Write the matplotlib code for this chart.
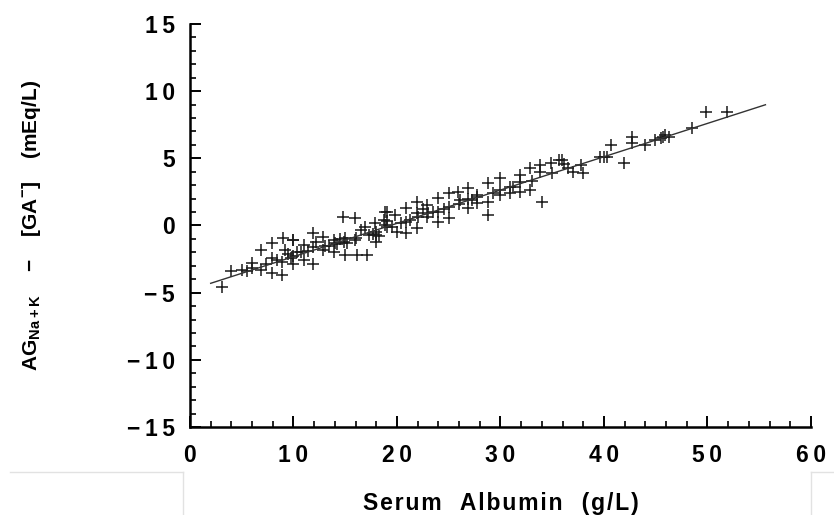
import matplotlib
matplotlib.use("Agg")
import matplotlib.pyplot as plt
from matplotlib.lines import Line2D
from matplotlib.ticker import MultipleLocator, FuncFormatter
import numpy as np

# serum albumin (g/L) and AG(Na+K) - [GA-] (mEq/L)
albumin = [3.1, 4.0, 5.0, 6.0, 6.0, 6.9, 6.9, 7.9, 7.9, 7.9, 8.9, 9.0, 9.2, 8.9,
           10.0, 9.8, 10.3, 10.0, 10.0, 10.0, 11.0, 11.0, 11.9, 11.9, 11.9,
           12.9, 12.9, 13.9, 13.9, 14.8, 15.0, 14.9, 15.0, 15.9, 15.9, 16.1,
           16.9, 17.1, 17.9, 18.0, 18.0, 18.0, 18.8, 18.8, 19.0, 18.7, 19.0,
           19.0, 19.8, 20.0, 20.9, 20.9, 20.9, 21.9, 21.9, 21.9, 22.9, 22.9,
           24.0, 24.0, 24.0, 25.0, 25.0, 25.0, 25.9, 26.1, 26.9, 26.9, 26.9,
           27.7, 27.7, 27.7, 28.8, 28.8, 28.8, 30.0, 30.0, 30.0, 30.9, 30.9,
           31.9, 31.9, 31.9, 32.9, 32.9, 33.8, 33.8, 34.0, 34.9, 35.7, 36.1,
           35.9, 37.0, 37.8, 38.0, 39.6, 40.3, 40.7, 41.9, 42.7, 42.7, 44.0,
           44.9, 45.5, 45.9, 45.7, 48.5, 49.9, 51.9,
           14.5, 15.2, 17.7, 18.3, 13.0, 16.5, 22.5, 23.5, 12.2, 14.2,
           5.5, 7.3, 8.4, 9.5, 10.7, 11.4, 13.4, 14.0, 16.0, 17.3, 19.5,
           20.4, 21.3, 22.0, 23.0, 24.5, 26.0, 27.2, 29.3, 31.2, 33.0, 35.0,
           36.5, 40.0, 46.3]
anion_gap = [-4.6, -3.4, -3.3, -2.8, -3.2, -1.8, -3.3, -1.3, -2.4, -3.55, -3.7,
             -0.95, -1.8, -2.7, -1.08, -2.4, -1.95, -1.1, -2.3, -2.9, -1.45,
             -2.56, -0.58, -1.6, -2.9, -0.83, -1.82, -1.08, -1.95, 0.66, -0.95,
             -1.2, -2.2, 0.54, -1.08, -2.2, -0.09, -2.2, 0.17, -0.46, -1.2,
             -0.7, 1.03, 0.04, 0.3, 0.41, 1.03, -0.09, 0.79, -0.46, 1.28, 0.29,
             -0.58, 1.78, 0.91, -0.2, 1.53, 0.66, 2.03, 1.03, 0.29, 2.4, 1.4,
             0.54, 2.52, 1.9, 2.77, 2.0, 1.28, 2.15, 2.27, 1.65, 3.15, 1.78,
             0.79, 3.52, 2.65, 2.3, 2.9, 2.4, 3.76, 3.26, 2.52, 4.26, 2.65,
             4.5, 4.0, 1.78, 4.64, 4.88, 4.6, 4.88, 4.0, 4.5, 3.9, 5.13, 5.13,
             6.0, 4.64, 6.62, 6.12, 6.0, 6.37, 6.5, 6.74, 6.62, 7.24, 8.48,
             8.48,
             -1.0, -1.3, -0.6, -0.8, -1.5, -0.3, 1.2, 1.0, -1.2, -1.4,
             -3.4, -2.9, -2.6, -2.1, -2.0, -1.9, -1.5, -1.3, -0.9, -0.7, -0.1,
             0.2, 0.4, 0.6, 0.9, 1.2, 1.6, 1.9, 2.4, 2.9, 3.3, 3.9,
             4.3, 5.1, 6.6]

# regression line
slope = 0.248
intercept = -4.8
fit_x = np.array([2.0, 55.6])

plt.rcParams['font.family'] = ['Liberation Sans', 'DejaVu Sans']
plt.rcParams['font.weight'] = 'bold'

THIN = '\u2009'
HAIR = '\u200a'


def spaced(s, sep=THIN):
    return sep.join(s)


def tick_fmt(v, pos):
    s = '%d' % round(v)
    if s.startswith('-'):
        return '\u2212' + THIN + spaced(s[1:])
    return spaced(s)


fig = plt.figure(figsize=(8.34, 5.15), dpi=100)
ax = fig.add_axes([0.2278, 0.1709, 0.7446, 0.7825])

ax.plot(albumin, anion_gap, linestyle='none', marker='+', color='#1a1a1a',
        markersize=8, markeredgewidth=1.1)
ax.plot(fit_x, slope * fit_x + intercept, color='#333333', linewidth=1.0)

ax.set_xlim(0, 60)
ax.set_ylim(-15, 15)
ax.xaxis.set_major_locator(MultipleLocator(10))
ax.xaxis.set_minor_locator(MultipleLocator(2))
ax.yaxis.set_major_locator(MultipleLocator(5))
ax.yaxis.set_minor_locator(MultipleLocator(1))
ax.xaxis.set_major_formatter(FuncFormatter(tick_fmt))
ax.yaxis.set_major_formatter(FuncFormatter(tick_fmt))

ax.spines['top'].set_visible(False)
ax.spines['right'].set_visible(False)
ax.spines['left'].set_linewidth(1.8)
ax.spines['bottom'].set_linewidth(1.8)

ax.tick_params(which='major', direction='in', length=8, width=1.4,
               labelsize=16.5, pad=12)
ax.tick_params(which='minor', direction='in', length=4, width=1.2)
ax.tick_params(axis='y', which='major', pad=11)

ax.set_xlabel('   '.join(spaced(w, HAIR) for w in ['Serum', 'Albumin', '(g/L)']),
              fontsize=16.5, fontweight='bold', labelpad=18)
ax.set_ylabel(r'AG$_{\mathregular{Na+K}}$    −    [GA$^{\mathregular{-}}$]    (mEq/L)',
              fontsize=15, fontweight='bold', labelpad=0)
ax.yaxis.set_label_coords(-0.236, 0.5)

# faint page lines from the source scan
for xs, ys in [([0.012, 0.219], [0.084, 0.084]), ([0.219, 0.219], [0.084, 0.0]),
               ([0.972, 0.972], [0.084, 0.0]), ([0.972, 1.0], [0.084, 0.084])]:
    fig.add_artist(Line2D(xs, ys, transform=fig.transFigure, color='#e2e2e2',
                          linewidth=1.0))

fig.savefig('out.png', dpi=100)
